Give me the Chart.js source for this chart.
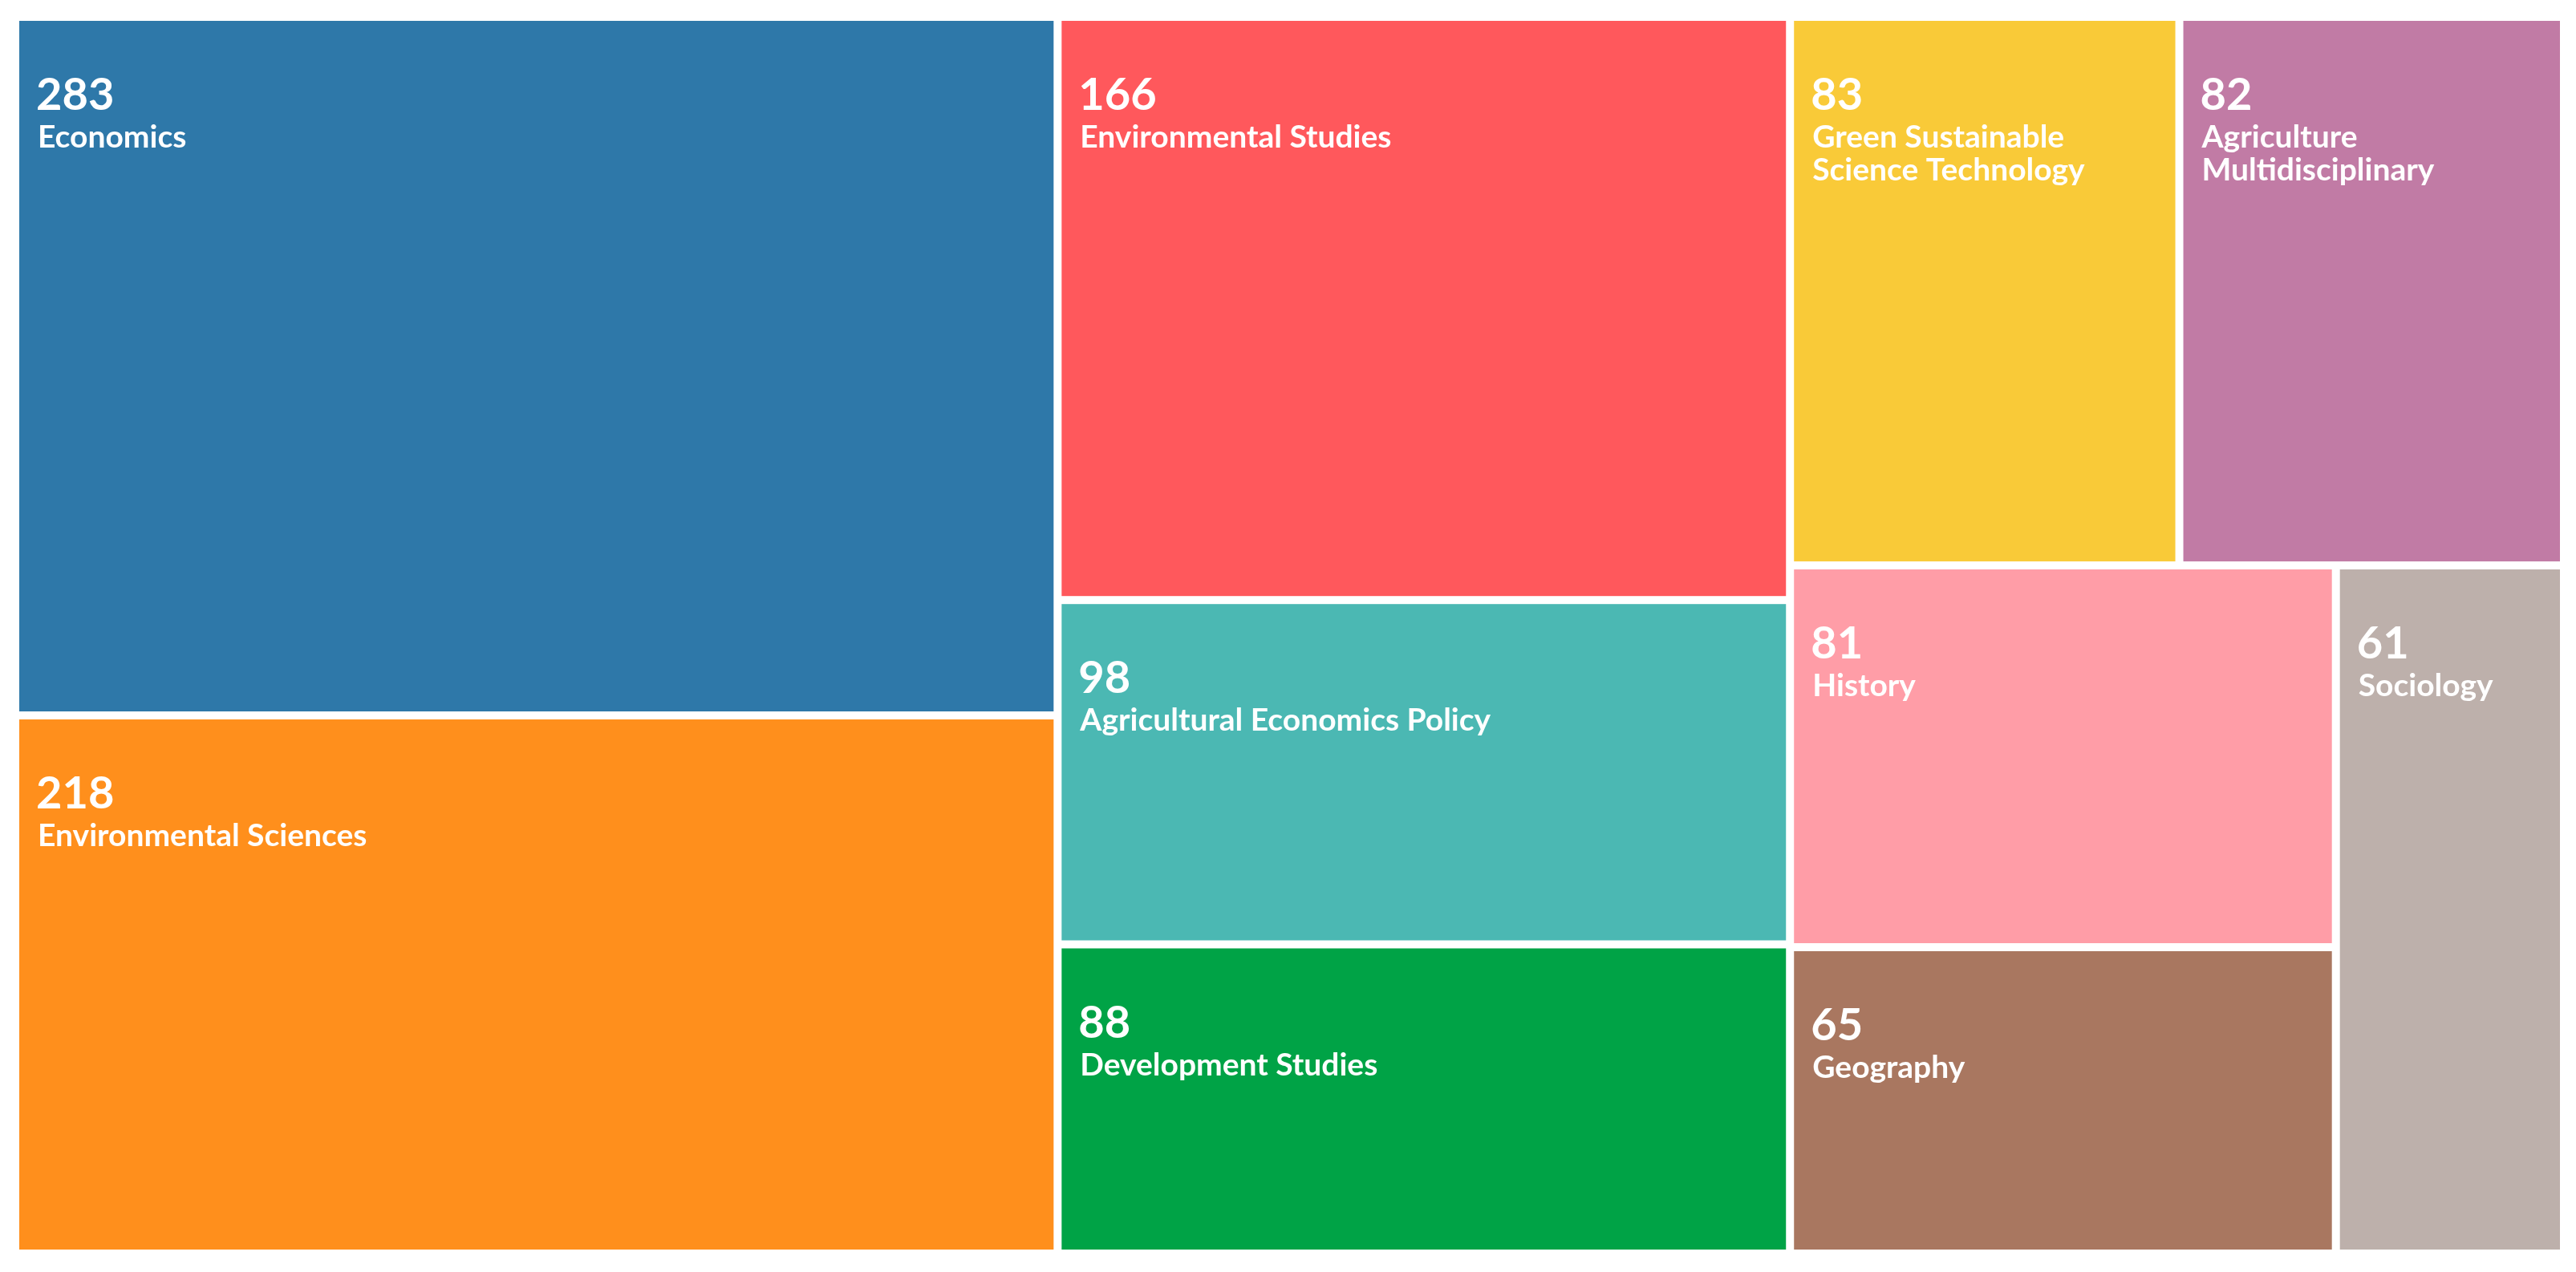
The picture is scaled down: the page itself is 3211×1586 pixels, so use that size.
<!DOCTYPE html>
<html>
<head>
<meta charset="utf-8">
<script src="https://cdn.jsdelivr.net/npm/chart.js@4.4.1/dist/chart.umd.min.js"></script>
<style>
  html, body { margin: 0; padding: 0; background: #ffffff; }
  #wrap { width: 3211px; height: 1586px; }
</style>
</head>
<body>
<div id="wrap"><canvas id="c" width="3211" height="1586"></canvas></div>
<script>
// ---- data ----
const categories = [
  "Economics",
  "Environmental Sciences",
  "Environmental Studies",
  "Agricultural Economics Policy",
  "Development Studies",
  "Green Sustainable Science Technology",
  "Agriculture Multidisciplinary",
  "History",
  "Geography",
  "Sociology"
];
const values = [283, 218, 166, 98, 88, 83, 82, 81, 65, 61];
const colors = [
  "#2E78A9", "#FF8F1C", "#FF585C", "#4BB8B3", "#00A346",
  "#F9CA38", "#C17BA5", "#FF9DA7", "#A97760", "#BDB0AB"
];

// ---- squarified layout (golden-ratio squarify) ----
function squarify(vals, x0, y0, x1, y1, ratio) {
  const out = new Array(vals.length);
  const n = vals.length;
  let value = vals.reduce((a, b) => a + b, 0);
  let i0 = 0, i1 = 0;
  while (i0 < n) {
    const dx = x1 - x0, dy = y1 - y0;
    let sumValue = vals[i1++];
    let minV = sumValue, maxV = sumValue;
    const alpha = Math.max(dy / dx, dx / dy) / (value * ratio);
    let beta = sumValue * sumValue * alpha;
    let minRatio = Math.max(maxV / beta, beta / minV);
    for (; i1 < n; ++i1) {
      const nv = vals[i1];
      sumValue += nv;
      if (nv < minV) minV = nv;
      if (nv > maxV) maxV = nv;
      beta = sumValue * sumValue * alpha;
      const newRatio = Math.max(maxV / beta, beta / minV);
      if (newRatio > minRatio) { sumValue -= nv; break; }
      minRatio = newRatio;
    }
    if (dx < dy) {
      const ny = value ? y0 + dy * sumValue / value : y1;
      let cx = x0; const k = (x1 - x0) / sumValue;
      for (let j = i0; j < i1; j++) {
        const nx = cx + vals[j] * k;
        out[j] = {x0: cx, y0: y0, x1: nx, y1: ny};
        cx = nx;
      }
      y0 = ny;
    } else {
      const nx = value ? x0 + dx * sumValue / value : x1;
      let cy = y0; const k = (y1 - y0) / sumValue;
      for (let j = i0; j < i1; j++) {
        const ny = cy + vals[j] * k;
        out[j] = {x0: x0, y0: cy, x1: nx, y1: ny};
        cy = ny;
      }
      x0 = nx;
    }
    value -= sumValue;
    i0 = i1;
  }
  return out;
}

function wrapText(ctx, text, maxWidth) {
  const words = text.split(" ");
  const lines = [];
  let cur = "";
  for (const w of words) {
    const test = cur ? cur + " " + w : w;
    if (ctx.measureText(test).width <= maxWidth || !cur) cur = test;
    else { lines.push(cur); cur = w; }
  }
  if (cur) lines.push(cur);
  return lines;
}

const FONT = "Lato, 'Open Sans', sans-serif";

const treemapPlugin = {
  id: "treemapCells",
  afterDatasetsDraw(chart) {
    const {ctx, chartArea, scales} = chart;
    const xs = scales.x, ys = scales.y;
    const W = chartArea.right - chartArea.left;
    const H = chartArea.bottom - chartArea.top;
    const gap = 10, p = gap / 2;
    const cells = squarify(values, -p, -p, W + p, H + p, (1 + Math.sqrt(5)) / 2);
    ctx.save();
    cells.forEach((c, i) => {
      // layout units -> scale values -> pixels via the chart's scales
      const vx0 = (c.x0 + p) / W, vx1 = (c.x1 - p) / W;
      const vy0 = (c.y0 + p) / H, vy1 = (c.y1 - p) / H;
      const px0 = xs.getPixelForValue(vx0), px1 = xs.getPixelForValue(vx1);
      const py0 = ys.getPixelForValue(vy0), py1 = ys.getPixelForValue(vy1);
      const left = Math.min(px0, px1), top = Math.min(py0, py1);
      const w = Math.abs(px1 - px0), h = Math.abs(py1 - py0);
      ctx.fillStyle = colors[i];
      ctx.fillRect(left, top, w, h);

      ctx.fillStyle = "#ffffff";
      ctx.textAlign = "left";
      ctx.textBaseline = "alphabetic";
      ctx.font = "bold 56px " + FONT;
      ctx.fillText(String(values[i]), left + 21, top + 111);
      ctx.font = "bold 39px " + FONT;
      const lines = wrapText(ctx, categories[i], w - 44);
      lines.forEach((ln, k) => {
        ctx.fillText(ln, left + 23, top + 158 + k * 41);
      });
    });
    ctx.restore();
  }
};

new Chart(document.getElementById("c"), {
  type: "scatter",
  data: {
    datasets: [{
      label: "Categories",
      data: categories.map((c, i) => ({x: 0, y: 0, v: values[i]})),
      pointRadius: 0,
      pointHoverRadius: 0,
      showLine: false
    }]
  },
  options: {
    responsive: false,
    devicePixelRatio: 1,
    animation: false,
    layout: { padding: { left: 24, top: 26, right: 20, bottom: 28 } },
    scales: {
      x: { type: "linear", min: 0, max: 1, display: false },
      y: { type: "linear", min: 0, max: 1, reverse: true, display: false }
    },
    plugins: {
      legend: { display: false },
      tooltip: { enabled: false }
    }
  },
  plugins: [treemapPlugin]
});
</script>
</body>
</html>
